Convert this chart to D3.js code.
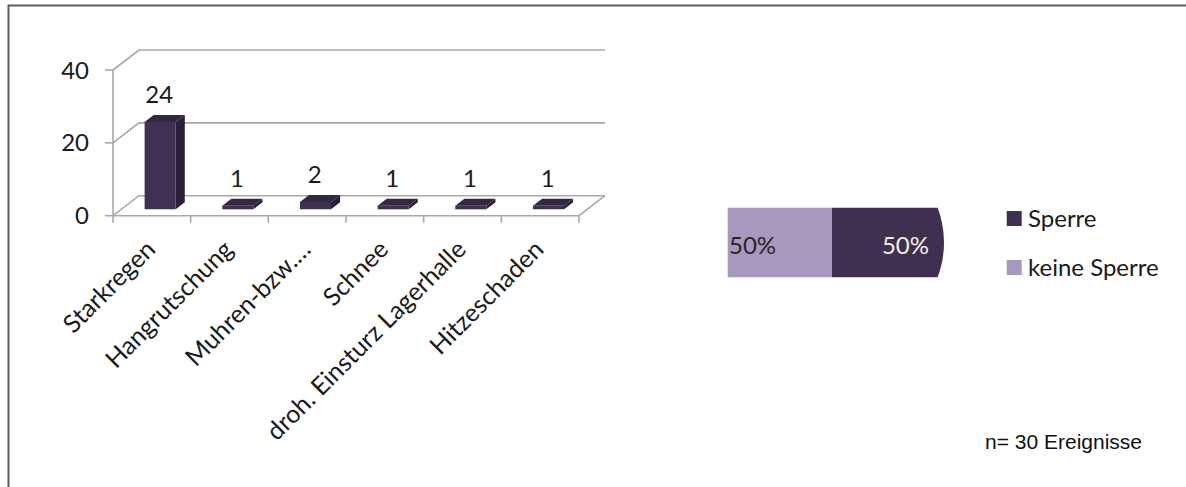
<!DOCTYPE html>
<html>
<head>
<meta charset="utf-8">
<script src="https://cdn.jsdelivr.net/npm/d3@7"></script>
<style>
  html, body { margin: 0; padding: 0; background: #fff; }
  svg { display: block; }
</style>
</head>
<body>
<svg id="chart" width="1186" height="487"></svg>
<script>
// ---- data ----
const categories = ["Starkregen", "Hangrutschung", "Muhren-bzw.…", "Schnee", "droh. Einsturz Lagerhalle", "Hitzeschaden"];
const counts = [24, 1, 2, 1, 1, 1];
const yTicks = [0, 20, 40];
const pieLabels = ["Sperre", "keine Sperre"];
const pieValues = [50, 50];
const note = "n= 30 Ereignisse";

// ---- styles ----
const FONT = "Lato, 'Open Sans', sans-serif";
const gridColor = "#a8a8a8";
const barFront = "#3f3152";
const barSide = "#2a1f38";
const barTop = "#33283f";
const pieColors = { "Sperre": "#403050", "keine Sperre": "#a898bd" };

const svg = d3.select("#chart");

// outer frame (top + left visible)
svg.append("rect").attr("x", 8.5).attr("y", 5.5).attr("width", 1300).attr("height", 600)
  .attr("fill", "none").attr("stroke", "#5e5e5e").attr("stroke-width", 2);

// ---- 3D bar chart ----
const x = d3.scaleBand().domain(categories).range([113, 579]).paddingInner(0.6).paddingOuter(0.3);
const y = d3.scaleLinear().domain([0, 40]).range([215.7, 70]);
const DX = 26, DY = -20; // depth offset
const P = (px, v, z) => [px + z * DX, y(v) + z * DY];
const x0 = x.range()[0], x1 = x.range()[1];
const step = x.step();

const g = svg.append("g");
const line = d3.line();

// back wall gridlines and left wall diagonals
yTicks.forEach(t => {
  g.append("path").attr("d", line([P(x0, t, 0), P(x0, t, 1), P(x1, t, 1)]))
    .attr("fill", "none").attr("stroke", gridColor).attr("stroke-width", 1.6);
});
// floor right edge
g.append("path").attr("d", line([P(x1, 0, 0), P(x1, 0, 1)]))
  .attr("fill", "none").attr("stroke", gridColor).attr("stroke-width", 1.6);

// bars
const z0 = 0.32, z1 = 0.67;
categories.forEach((c, i) => {
  const v = counts[i];
  const bx0 = x(c), bx1 = x(c) + x.bandwidth();
  const front = [P(bx0, 0, z0), P(bx1, 0, z0), P(bx1, v, z0), P(bx0, v, z0)];
  const side = [P(bx1, 0, z0), P(bx1, 0, z1), P(bx1, v, z1), P(bx1, v, z0)];
  const top = [P(bx0, v, z0), P(bx1, v, z0), P(bx1, v, z1), P(bx0, v, z1)];
  g.append("path").attr("d", line(side) + "Z").attr("fill", barSide);
  g.append("path").attr("d", line(top) + "Z").attr("fill", barTop);
  g.append("path").attr("d", line(front) + "Z").attr("fill", barFront);
  const tp = P(bx0 + x.bandwidth() / 2, v, z1);
  g.append("text").attr("x", tp[0] - 10).attr("y", tp[1] - 12)
    .attr("text-anchor", "middle").attr("font-family", FONT).attr("font-size", 24)
    .attr("fill", "#1a1a1a").text(v);
});

// front axes
g.append("line").attr("x1", x0).attr("x2", x0).attr("y1", y(0)).attr("y2", y(40))
  .attr("stroke", gridColor).attr("stroke-width", 1.6);
g.append("line").attr("x1", x0).attr("x2", x1).attr("y1", y(0)).attr("y2", y(0))
  .attr("stroke", gridColor).attr("stroke-width", 1.6);
yTicks.forEach(t => {
  g.append("line").attr("x1", x0 - 8).attr("x2", x0).attr("y1", y(t)).attr("y2", y(t))
    .attr("stroke", gridColor).attr("stroke-width", 1.6);
  g.append("text").attr("x", 89).attr("y", y(t)).attr("dy", "0.36em")
    .attr("text-anchor", "end").attr("font-family", FONT).attr("font-size", 24)
    .attr("fill", "#1a1a1a").text(t);
});
d3.range(categories.length + 1).forEach(i => {
  const tx = x0 + i * step;
  g.append("line").attr("x1", tx).attr("x2", tx).attr("y1", y(0)).attr("y2", y(0) + 7)
    .attr("stroke", gridColor).attr("stroke-width", 1.6);
});
categories.forEach(c => {
  const cx = x(c) + x.bandwidth() / 2;
  g.append("text").attr("transform", `translate(${cx + 5},${251}) rotate(-45)`)
    .attr("text-anchor", "end").attr("font-family", FONT).attr("font-size", 25)
    .attr("fill", "#1a1a1a").text(c);
});

// ---- pie (clipped) ----
svg.append("clipPath").attr("id", "pieclip").append("rect")
  .attr("x", 727.7).attr("y", 207.7).attr("width", 300).attr("height", 69.6);
const pieG = svg.append("g").attr("clip-path", "url(#pieclip)");
const inner = pieG.append("g").attr("transform", "translate(832,242.5) scale(112,105)");
const pie = d3.pie().sort(null).value(d => d.v);
const arcs = pie(pieLabels.map((l, i) => ({ l, v: pieValues[i] })));
const arc = d3.arc().innerRadius(0).outerRadius(1);
inner.selectAll("path").data(arcs).join("path")
  .attr("d", arc).attr("fill", d => pieColors[d.data.l]);

// pie labels
svg.append("text").attr("x", 729).attr("y", 253.5).attr("font-family", FONT).attr("font-size", 24)
  .attr("fill", "#262626").text(pieValues[1] + "%");
svg.append("text").attr("x", 929).attr("y", 254.3).attr("text-anchor", "end").attr("font-family", FONT).attr("font-size", 24)
  .attr("fill", "#f2eee8").text(pieValues[0] + "%");

// legend
pieLabels.forEach((l, i) => {
  const ly = 211 + i * 49;
  svg.append("rect").attr("x", 1006.7).attr("y", ly).attr("width", 15).attr("height", 15)
    .attr("fill", pieColors[l]);
  svg.append("text").attr("x", 1028).attr("y", ly + 15.5).attr("font-family", FONT).attr("font-size", 24)
    .attr("fill", "#1a1a1a").text(l);
});

// note
svg.append("text").attr("x", 985).attr("y", 449).attr("font-family", "'Liberation Sans', Arial, sans-serif")
  .attr("font-size", 21).attr("fill", "#111").text(note);
</script>
</body>
</html>
